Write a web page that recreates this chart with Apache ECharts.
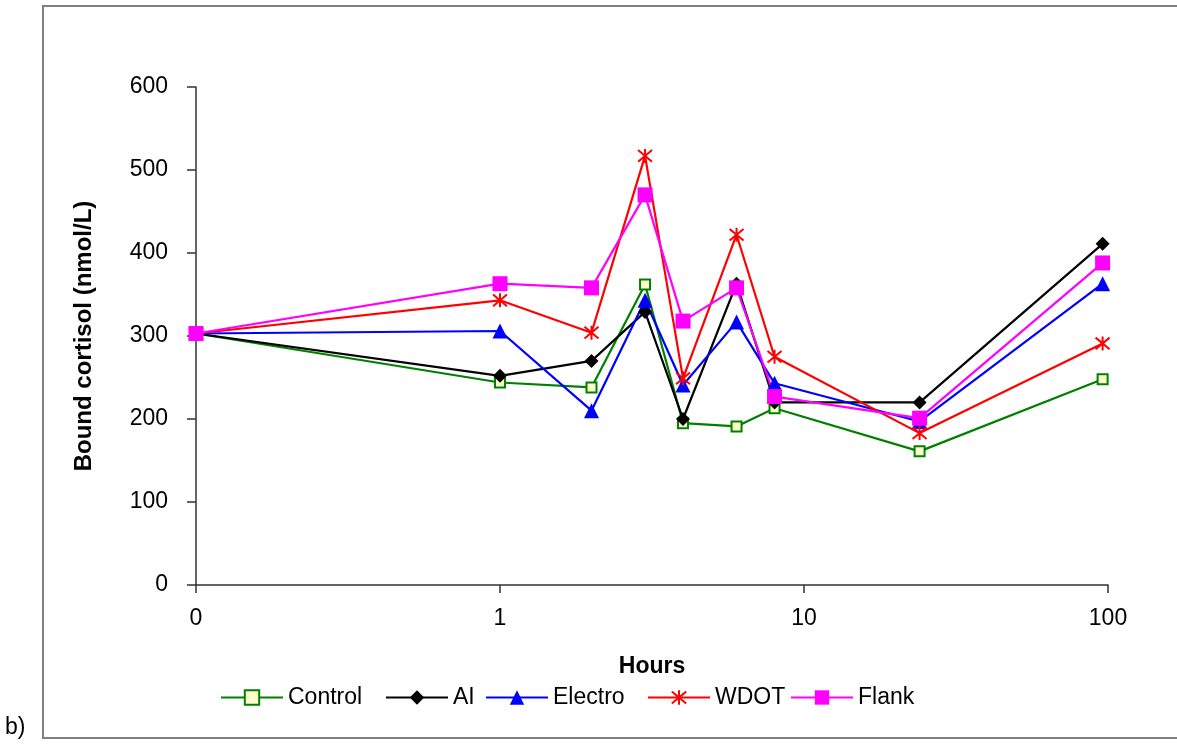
<!DOCTYPE html>
<html>
<head>
<meta charset="utf-8">
<script src="https://cdn.jsdelivr.net/npm/echarts@6/dist/echarts.min.js"></script>
<style>
  html, body { margin: 0; padding: 0; background: #fff; }
  #chart { width: 1177px; height: 747px; }
</style>
</head>
<body>
<div id="chart"></div>
<script>
// Sampling times (hours, log axis; the first sample is plotted at 0.1 and labelled "0")
const hours = [0.1, 1, 2, 3, 4, 6, 8, 24, 96];

// Bound cortisol (nmol/L) per treatment group
const control = [303, 244, 238, 362, 195, 191, 213, 161, 248];
const ai      = [303, 252, 270, 329, 200, 363, 220, 220, 411];
const electro = [303, 306, 210, 343, 241, 317, 243, 197, 363];
const wdot    = [303, 343, 304, 517, 249, 422, 275, 183, 291];
const flank   = [303, 363, 358, 470, 318, 358, 227, 201, 388];

const seriesNames = ['Control', 'AI', 'Electro', 'WDOT', 'Flank'];
const yTicks = { min: 0, max: 600, step: 100 };

const FONT = '"Liberation Sans", Arial, sans-serif';
const ASTERISK = 'path://M0,0L10,10M10,0L0,10M5,-1L5,11';

function pairs(values) {
  return hours.map((h, i) => [h, values[i]]);
}

function lineSeries(name, values, color, symbol, size, itemStyle) {
  return {
    name: name,
    type: 'line',
    data: pairs(values),
    symbol: symbol,
    symbolSize: size,
    showAllSymbol: true,
    lineStyle: { color: color, width: 2.2 },
    itemStyle: Object.assign({ color: color, opacity: 1 }, itemStyle || {}),
    emphasis: { disabled: true },
    z: 2
  };
}

const chart = echarts.init(document.getElementById('chart'), null, { renderer: 'canvas' });

// one legend block per entry so each sits at its own spot in the row
const legendSlots = [220, 385, 485, 647, 790];
const legends = seriesNames.map((n, i) => ({
  data: [n],
  left: legendSlots[i],
  top: 686,
  padding: 0,
  itemWidth: 62,
  itemHeight: 18,
  selectedMode: false,
  textStyle: { fontFamily: FONT, fontSize: 23, color: '#000' }
}));

chart.setOption({
  animation: false,
  backgroundColor: '#fff',
  grid: { left: 196, right: 69, top: 87, bottom: 162 },
  legend: legends,
  xAxis: {
    type: 'log',
    logBase: 10,
    min: 0.1,
    max: 100,
    name: 'Hours',
    nameLocation: 'middle',
    nameGap: 70,
    nameTextStyle: { fontFamily: FONT, fontSize: 23, fontWeight: 'bold', color: '#000' },
    axisLine: { lineStyle: { color: '#333', width: 1.5 } },
    axisTick: { show: true, inside: false, length: 8, lineStyle: { color: '#333', width: 1.5 } },
    minorTick: { show: false },
    splitLine: { show: false },
    axisLabel: {
      margin: 22,
      fontFamily: FONT, fontSize: 23, color: '#000',
      formatter: v => (v < 1 ? '0' : String(Math.round(v)))
    }
  },
  yAxis: {
    type: 'value',
    min: yTicks.min,
    max: yTicks.max,
    interval: yTicks.step,
    name: 'Bound cortisol (nmol/L)',
    nameLocation: 'middle',
    nameRotate: 90,
    nameGap: 100,
    nameTextStyle: { fontFamily: FONT, fontSize: 24, fontWeight: 'bold', color: '#000' },
    axisLine: { show: true, lineStyle: { color: '#333', width: 1.5 } },
    axisTick: { show: true, inside: false, length: 9, lineStyle: { color: '#333', width: 1.5 } },
    splitLine: { show: false },
    axisLabel: { margin: 28, fontFamily: FONT, fontSize: 23, color: '#000' }
  },
  series: [
    lineSeries('Control', control, '#008000', 'rect', 10, { color: '#FFFFCC', borderColor: '#008000', borderWidth: 2 }),
    lineSeries('AI', ai, '#000000', 'diamond', 14),
    lineSeries('Electro', electro, '#0000FF', 'triangle', 15),
    lineSeries('WDOT', wdot, '#FF0000', ASTERISK, 14, { borderColor: '#FF0000', borderWidth: 2 }),
    lineSeries('Flank', flank, '#FF00FF', 'rect', 15)
  ],
  graphic: [
    {
      type: 'rect',
      shape: { x: 43, y: 6, width: 1160, height: 732 },
      style: { fill: 'none', stroke: '#7f7f7f', lineWidth: 2 },
      silent: true,
      z: -1
    },
    {
      type: 'text',
      left: 5,
      top: 716,
      style: { text: 'b)', font: '23px ' + FONT, fill: '#000' }
    }
  ]
});
</script>
</body>
</html>
